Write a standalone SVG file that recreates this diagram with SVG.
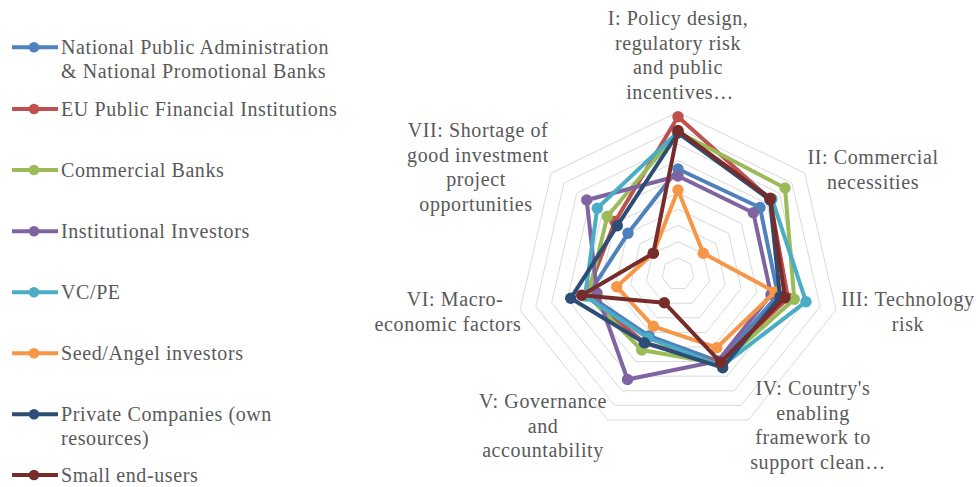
<svg xmlns="http://www.w3.org/2000/svg" xmlns:xlink="http://www.w3.org/1999/xlink" width="976" height="487" viewBox="0 0 976 487">
<style>
text{font-family:"Liberation Serif","DejaVu Serif",serif;font-size:20px;letter-spacing:0.6px;fill:#595959}
.lbl{text-anchor:middle}
.grid use{fill:none;stroke:#D9D9D9;stroke-width:1}
.s1{stroke:#4F81BD;fill:#4F81BD}.s2{stroke:#C0504D;fill:#C0504D}.s3{stroke:#9BBB59;fill:#9BBB59}.s4{stroke:#8064A2;fill:#8064A2}
.s5{stroke:#4BACC6;fill:#4BACC6}.s6{stroke:#F79646;fill:#F79646}.s7{stroke:#2C4D75;fill:#2C4D75}.s8{stroke:#772C2A;fill:#772C2A}
polygon.ln{fill:none;stroke-width:4;stroke-linejoin:round}
#series circle{stroke:none}
.lg line{stroke-width:4}
.lg circle{stroke:none}
</style>
<defs>
<polygon id="hep" vector-effect="non-scaling-stroke" points="0,-1 0.78183,-0.62349 0.97493,0.22252 0.43388,0.90097 -0.43388,0.90097 -0.97493,0.22252 -0.78183,-0.62349"/>
</defs>
<rect width="976" height="487" fill="#FFFFFF"/>
<g id="grid" class="grid">
<use xlink:href="#hep" transform="translate(678 274) scale(16.2)"/>
<use xlink:href="#hep" transform="translate(678 274) scale(32.4)"/>
<use xlink:href="#hep" transform="translate(678 274) scale(48.6)"/>
<use xlink:href="#hep" transform="translate(678 274) scale(64.8)"/>
<use xlink:href="#hep" transform="translate(678 274) scale(81)"/>
<use xlink:href="#hep" transform="translate(678 274) scale(97.2)"/>
<use xlink:href="#hep" transform="translate(678 274) scale(113.4)"/>
<use xlink:href="#hep" transform="translate(678 274) scale(129.6)"/>
<use xlink:href="#hep" transform="translate(678 274) scale(145.8)"/>
<use xlink:href="#hep" transform="translate(678 274) scale(162)"/>
</g>
<g id="axis-labels">
<text class="lbl" x="678" y="25">I: Policy design,</text>
<text class="lbl" x="678" y="49.5">regulatory risk</text>
<text class="lbl" x="678" y="74">and public</text>
<text class="lbl" x="680" y="98.5">incentives…</text>
<text class="lbl" x="873" y="164">II: Commercial</text>
<text class="lbl" x="873" y="188.5">necessities</text>
<text class="lbl" x="908" y="306">III: Technology</text>
<text class="lbl" x="908" y="330.5">risk</text>
<text class="lbl" x="813" y="395">IV: Country's</text>
<text class="lbl" x="813" y="419.5">enabling</text>
<text class="lbl" x="813" y="444">framework to</text>
<text class="lbl" x="818" y="468.5">support clean…</text>
<text class="lbl" x="543" y="408">V: Governance</text>
<text class="lbl" x="543" y="432.5">and</text>
<text class="lbl" x="543" y="457">accountability</text>
<text class="lbl" x="455" y="306">VI: Macro-</text>
<text class="lbl" x="448" y="330.5">economic factors</text>
<text class="lbl" x="478" y="137">VII: Shortage of</text>
<text class="lbl" x="478" y="161.5">good investment</text>
<text class="lbl" x="476" y="186">project</text>
<text class="lbl" x="476" y="210.5">opportunities</text>
</g>
<g id="series">
<g id="s-national" class="s1">
<polygon class="ln" points="678,169 760,207.5 778,295 720,362 649,336 588,295 628,233.3"/>
<circle cx="678" cy="169" r="5.7"/><circle cx="760" cy="207.5" r="5.7"/><circle cx="778" cy="295" r="5.7"/><circle cx="720" cy="362" r="5.7"/><circle cx="649" cy="336" r="5.7"/><circle cx="588" cy="295" r="5.7"/><circle cx="628" cy="233.3" r="5.7"/>
</g>
<g id="s-eu" class="s2">
<polygon class="ln" points="678,116.7 770,199 788,298 720,363 645,343 586,295 615,221.5"/>
<circle cx="678" cy="116.7" r="5.7"/><circle cx="770" cy="199" r="5.7"/><circle cx="788" cy="298" r="5.7"/><circle cx="720" cy="363" r="5.7"/><circle cx="645" cy="343" r="5.7"/><circle cx="586" cy="295" r="5.7"/><circle cx="615" cy="221.5" r="5.7"/>
</g>
<g id="s-commercial" class="s3">
<polygon class="ln" points="678,132 785,188 794.3,299.3 721,364 641.7,350 588,296 607.3,216.5"/>
<circle cx="678" cy="132" r="5.7"/><circle cx="785" cy="188" r="5.7"/><circle cx="794.3" cy="299.3" r="5.7"/><circle cx="721" cy="364" r="5.7"/><circle cx="641.7" cy="350" r="5.7"/><circle cx="588" cy="296" r="5.7"/><circle cx="607.3" cy="216.5" r="5.7"/>
</g>
<g id="s-institutional" class="s4">
<polygon class="ln" points="678,176 753.3,212.7 771,294.5 718,361 627.5,379.5 597,293 586.7,200"/>
<circle cx="678" cy="176" r="5.7"/><circle cx="753.3" cy="212.7" r="5.7"/><circle cx="771" cy="294.5" r="5.7"/><circle cx="718" cy="361" r="5.7"/><circle cx="627.5" cy="379.5" r="5.7"/><circle cx="597" cy="293" r="5.7"/><circle cx="586.7" cy="200" r="5.7"/>
</g>
<g id="s-vcpe" class="s5">
<polygon class="ln" points="678,132 772,199 806,301.7 722,366 648,338 585,296 597.3,208.3"/>
<circle cx="678" cy="132" r="5.7"/><circle cx="772" cy="199" r="5.7"/><circle cx="806" cy="301.7" r="5.7"/><circle cx="722" cy="366" r="5.7"/><circle cx="648" cy="338" r="5.7"/><circle cx="585" cy="296" r="5.7"/><circle cx="597.3" cy="208.3" r="5.7"/>
</g>
<g id="s-seed" class="s6">
<polygon class="ln" points="678,190 703.3,253.3 775,292 716.7,347.7 653.3,326.3 616.7,286.7 653.3,253.3"/>
<circle cx="678" cy="190" r="5.7"/><circle cx="703.3" cy="253.3" r="5.7"/><circle cx="775" cy="292" r="5.7"/><circle cx="716.7" cy="347.7" r="5.7"/><circle cx="653.3" cy="326.3" r="5.7"/><circle cx="616.7" cy="286.7" r="5.7"/><circle cx="653.3" cy="253.3" r="5.7"/>
</g>
<g id="s-private" class="s7">
<polygon class="ln" points="678,133 770,200 780,296.7 722.7,367.7 644.3,342.7 570.7,298.3 617.3,225.7"/>
<circle cx="678" cy="133" r="5.7"/><circle cx="770" cy="200" r="5.7"/><circle cx="780" cy="296.7" r="5.7"/><circle cx="722.7" cy="367.7" r="5.7"/><circle cx="644.3" cy="342.7" r="5.7"/><circle cx="570.7" cy="298.3" r="5.7"/><circle cx="617.3" cy="225.7" r="5.7"/>
</g>
<g id="s-small" class="s8">
<polygon class="ln" points="678,130.5 770.3,198.3 785,297.7 720.7,362.3 664.3,302.7 581.7,295.3 653.3,253.3"/>
<circle cx="678" cy="130.5" r="5.7"/><circle cx="770.3" cy="198.3" r="5.7"/><circle cx="785" cy="297.7" r="5.7"/><circle cx="720.7" cy="362.3" r="5.7"/><circle cx="664.3" cy="302.7" r="5.7"/><circle cx="581.7" cy="295.3" r="5.7"/><circle cx="653.3" cy="253.3" r="5.7"/>
</g>
</g>
<g id="legend" class="lg">
<g id="lg-national" class="s1"><line x1="12" y1="47.3" x2="58" y2="47.3"/><circle cx="34" cy="47.3" r="5.3"/><text x="61" y="54" stroke="none">National Public Administration</text><text x="61" y="77.5" stroke="none">&amp; National Promotional Banks</text></g>
<g id="lg-eu" class="s2"><line x1="12" y1="109" x2="58" y2="109"/><circle cx="34" cy="109" r="5.3"/><text x="61" y="115.5" stroke="none">EU Public Financial Institutions</text></g>
<g id="lg-commercial" class="s3"><line x1="12" y1="170" x2="58" y2="170"/><circle cx="34" cy="170" r="5.3"/><text x="61" y="176.5" stroke="none">Commercial Banks</text></g>
<g id="lg-institutional" class="s4"><line x1="12" y1="231.3" x2="58" y2="231.3"/><circle cx="34" cy="231.3" r="5.3"/><text x="61" y="237.8" stroke="none">Institutional Investors</text></g>
<g id="lg-vcpe" class="s5"><line x1="12" y1="292.3" x2="58" y2="292.3"/><circle cx="34" cy="292.3" r="5.3"/><text x="61" y="298.8" stroke="none">VC/PE</text></g>
<g id="lg-seed" class="s6"><line x1="12" y1="353.3" x2="58" y2="353.3"/><circle cx="34" cy="353.3" r="5.3"/><text x="61" y="359.8" stroke="none">Seed/Angel investors</text></g>
<g id="lg-private" class="s7"><line x1="12" y1="414.3" x2="58" y2="414.3"/><circle cx="34" cy="414.3" r="5.3"/><text x="61" y="420.8" stroke="none">Private Companies (own</text><text x="61" y="444.5" stroke="none">resources)</text></g>
<g id="lg-small" class="s8"><line x1="12" y1="475" x2="58" y2="475"/><circle cx="34" cy="475" r="5.3"/><text x="61" y="481.5" stroke="none">Small end-users</text></g>
</g>
</svg>
